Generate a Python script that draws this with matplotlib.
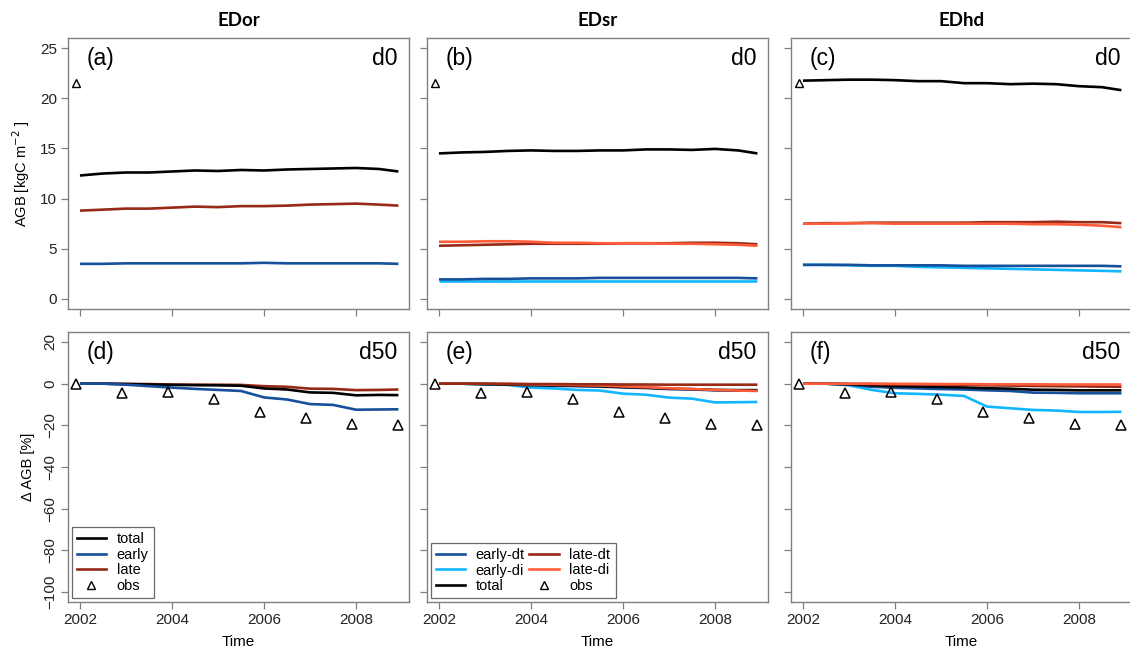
import matplotlib
matplotlib.use("Agg")
import matplotlib.pyplot as plt
from matplotlib.lines import Line2D

plt.rcParams['font.family'] = ['Liberation Sans', 'DejaVu Sans']

# time axis (years), roughly half-yearly samples
t = [2002.0, 2002.5, 2003.0, 2003.5, 2004.0, 2004.5, 2005.0, 2005.5,
     2006.0, 2006.5, 2007.0, 2007.5, 2008.0, 2008.5, 2008.92]

# observations
obs_t = [2001.92, 2002.92, 2003.92, 2004.92, 2005.92, 2006.92, 2007.92, 2008.92]
obs_d0 = [21.5]
obs_d50 = [0, -4.5, -3.8, -7.5, -13.8, -16.3, -19.2, -20.0]

# --- d0, AGB [kgC m-2] ---
or_total = [12.3, 12.5, 12.6, 12.6, 12.7, 12.8, 12.75, 12.85, 12.8, 12.9, 12.95, 13.0, 13.05, 12.95, 12.7]
or_early = [3.5, 3.5, 3.55, 3.55, 3.55, 3.55, 3.55, 3.55, 3.6, 3.55, 3.55, 3.55, 3.55, 3.55, 3.5]
or_late = [8.8, 8.9, 9.0, 9.0, 9.1, 9.2, 9.15, 9.25, 9.25, 9.3, 9.4, 9.45, 9.5, 9.4, 9.3]

sr_total = [14.5, 14.6, 14.65, 14.75, 14.8, 14.75, 14.75, 14.8, 14.8, 14.9, 14.9, 14.85, 14.95, 14.8, 14.5]
sr_early_dt = [1.95, 1.95, 2.0, 2.0, 2.05, 2.05, 2.05, 2.1, 2.1, 2.1, 2.1, 2.1, 2.1, 2.1, 2.05]
sr_early_di = [1.8, 1.8, 1.8, 1.8, 1.8, 1.8, 1.8, 1.8, 1.8, 1.8, 1.8, 1.8, 1.8, 1.8, 1.8]
sr_late_dt = [5.3, 5.35, 5.4, 5.45, 5.5, 5.5, 5.5, 5.5, 5.55, 5.55, 5.55, 5.6, 5.6, 5.55, 5.45]
sr_late_di = [5.7, 5.7, 5.75, 5.75, 5.7, 5.6, 5.6, 5.55, 5.55, 5.55, 5.5, 5.5, 5.45, 5.4, 5.3]

hd_total = [21.75, 21.8, 21.85, 21.85, 21.8, 21.7, 21.7, 21.5, 21.5, 21.4, 21.45, 21.4, 21.2, 21.1, 20.8]
hd_early_dt = [3.4, 3.4, 3.4, 3.35, 3.35, 3.35, 3.35, 3.3, 3.3, 3.3, 3.3, 3.3, 3.3, 3.3, 3.25]
hd_early_di = [3.4, 3.4, 3.35, 3.3, 3.3, 3.2, 3.15, 3.1, 3.05, 3.0, 2.95, 2.9, 2.85, 2.8, 2.75]
hd_late_dt = [7.5, 7.55, 7.55, 7.6, 7.6, 7.6, 7.6, 7.6, 7.65, 7.65, 7.65, 7.7, 7.65, 7.65, 7.55]
hd_late_di = [7.5, 7.5, 7.55, 7.55, 7.5, 7.5, 7.5, 7.5, 7.5, 7.5, 7.45, 7.45, 7.4, 7.3, 7.15]

# --- d50, delta AGB [%] ---
or50_total = [0, 0, -0.2, -0.4, -0.6, -0.7, -0.8, -1.0, -2.3, -2.8, -4.2, -4.4, -5.6, -5.4, -5.5]
or50_early = [0, 0, -0.5, -1.2, -1.9, -2.5, -3.0, -3.5, -6.6, -7.6, -9.8, -10.2, -12.5, -12.4, -12.3]
or50_late = [0, 0, -0.1, -0.2, -0.4, -0.5, -0.5, -0.6, -1.2, -1.5, -2.4, -2.5, -3.1, -3.0, -2.8]

sr50_total = [0, 0, -0.2, -0.4, -0.6, -0.8, -1.0, -1.2, -1.6, -1.9, -2.4, -2.6, -3.0, -3.1, -3.1]
sr50_early_dt = [0, 0, -0.3, -0.5, -0.8, -1.0, -1.2, -1.4, -1.8, -2.1, -2.6, -2.8, -3.2, -3.3, -3.3]
sr50_early_di = [0, 0, -0.3, -0.6, -1.9, -2.3, -3.0, -3.3, -4.8, -5.3, -6.7, -7.2, -9.0, -8.9, -8.8]
sr50_late_dt = [0, 0, 0, -0.1, -0.2, -0.2, -0.3, -0.3, -0.4, -0.4, -0.5, -0.5, -0.5, -0.5, -0.5]
sr50_late_di = [0, 0, 0, -0.1, -0.3, -0.5, -0.7, -0.9, -1.3, -1.7, -2.2, -2.6, -3.0, -3.3, -3.5]

hd50_total = [0, 0, -0.3, -0.8, -1.2, -1.4, -1.6, -1.8, -2.2, -2.4, -2.9, -3.0, -3.2, -3.2, -3.2]
hd50_early_dt = [0, 0, -0.5, -1.5, -2.0, -2.3, -2.6, -2.8, -3.2, -3.5, -4.3, -4.4, -4.6, -4.6, -4.6]
hd50_early_di = [0, 0, -0.8, -3.0, -4.6, -4.9, -5.3, -5.9, -11.0, -11.8, -12.6, -12.9, -13.6, -13.6, -13.5]
hd50_late_dt = [0, 0, -0.1, -0.2, -0.3, -0.4, -0.5, -0.6, -0.8, -0.9, -1.1, -1.2, -1.3, -1.4, -1.5]
hd50_late_di = [0, 0, 0, 0, -0.1, -0.1, -0.2, -0.2, -0.3, -0.3, -0.3, -0.4, -0.4, -0.4, -0.4]

titles = ['EDor', 'EDsr', 'EDhd']
labels_top = ['(a)', '(b)', '(c)']
labels_bot = ['(d)', '(e)', '(f)']

c_early = '#16509a'
c_late = '#962a16'
c_early_di = '#12b6ff'
c_late_di = '#ff5c3a'
c_total = 'black'
gray = '#808080'
lw = 1.9

fig = plt.figure(figsize=(11.3, 6.57), dpi=100)
W, H = 1130.0, 657.0
lefts = [68, 427, 791]
pw = 341
top_rows = [(38, 309), (332, 602)]

axes = []
for r, (ytop, ybot) in enumerate(top_rows):
    row = []
    for c, x0 in enumerate(lefts):
        ax = fig.add_axes([x0 / W, 1 - ybot / H, pw / W, (ybot - ytop) / H])
        row.append(ax)
    axes.append(row)

top_series = [
    [(or_early, c_early), (or_late, c_late), (or_total, c_total)],
    [(sr_early_di, c_early_di), (sr_early_dt, c_early), (sr_late_dt, c_late), (sr_late_di, c_late_di), (sr_total, c_total)],
    [(hd_early_di, c_early_di), (hd_early_dt, c_early), (hd_late_dt, c_late), (hd_late_di, c_late_di), (hd_total, c_total)],
]
bot_series = [
    [(or50_late, c_late), (or50_total, c_total), (or50_early, c_early)],
    [(sr50_early_di, c_early_di), (sr50_early_dt, c_early), (sr50_total, c_total), (sr50_late_di, c_late_di), (sr50_late_dt, c_late)],
    [(hd50_early_di, c_early_di), (hd50_early_dt, c_early), (hd50_total, c_total), (hd50_late_dt, c_late), (hd50_late_di, c_late_di)],
]

for c in range(3):
    ax = axes[0][c]
    for ys, col in top_series[c]:
        ax.plot(t, ys, color=col, lw=lw, solid_capstyle='butt')
    ax.plot(obs_t[:1], obs_d0, linestyle='none', marker='^', ms=6,
            mfc='none', mec='black', mew=1.0)
    ax.set_ylim(-1, 26)
    ax.set_yticks([0, 5, 10, 15, 20, 25])
    ax.text(0.056, 0.965, labels_top[c], transform=ax.transAxes, fontsize=16.5, va='top', ha='left')
    ax.text(0.965, 0.965, 'd0', transform=ax.transAxes, fontsize=16.5, va='top', ha='right')
    ax.set_title(titles[c], fontsize=13.5, fontweight='bold', family=['Lato', 'DejaVu Sans'], pad=9)

    ax = axes[1][c]
    for ys, col in bot_series[c]:
        ax.plot(t, ys, color=col, lw=lw, solid_capstyle='butt')
    ax.plot(obs_t, obs_d50, linestyle='none', marker='^', ms=7.5,
            mfc='none', mec='black', mew=1.1)
    ax.set_ylim(-104.8, 24.8)
    ax.set_yticks([-100, -80, -60, -40, -20, 0, 20])
    ax.text(0.056, 0.965, labels_bot[c], transform=ax.transAxes, fontsize=16.5, va='top', ha='left')
    ax.text(0.965, 0.965, 'd50', transform=ax.transAxes, fontsize=16.5, va='top', ha='right')
    ax.set_xlabel('Time', fontsize=11, labelpad=6)

for r in range(2):
    for c in range(3):
        ax = axes[r][c]
        ax.set_xlim(2001.74, 2009.15)
        ax.set_xticks([2002, 2004, 2006, 2008])
        for s in ax.spines.values():
            s.set_color(gray)
            s.set_linewidth(1.0)
        ax.tick_params(colors=gray, labelcolor='#222222', length=5, width=0.9,
                       labelsize=11, pad=3)
        if r == 0:
            ax.tick_params(labelbottom=False)
        if c > 0:
            ax.tick_params(labelleft=False)

for lab in axes[1][0].get_yticklabels():
    lab.set_rotation(90)
    lab.set_va('center')

axes[0][0].set_ylabel('AGB [kgC m$^{-2}$ ]', fontsize=10.5, labelpad=6)
axes[1][0].set_ylabel('Δ AGB [%]', fontsize=10.5, labelpad=6)

# legends
leg_kw = dict(loc='lower left', fontsize=10.5, frameon=True, fancybox=False,
              edgecolor='#444444', handlelength=2.0, handletextpad=0.75,
              labelspacing=0.12, borderpad=0.35, borderaxespad=0.25)

h_or = [Line2D([], [], color=c_total, lw=lw), Line2D([], [], color=c_early, lw=lw),
        Line2D([], [], color=c_late, lw=lw),
        Line2D([], [], ls='none', marker='^', ms=6, mfc='none', mec='black')]
leg = axes[1][0].legend(h_or, ['total', 'early', 'late', 'obs'], **leg_kw)
leg.get_frame().set_linewidth(0.9)

h_sr = [Line2D([], [], color=c_early, lw=lw), Line2D([], [], color=c_early_di, lw=lw),
        Line2D([], [], color=c_total, lw=lw), Line2D([], [], color=c_late, lw=lw),
        Line2D([], [], color=c_late_di, lw=lw),
        Line2D([], [], ls='none', marker='^', ms=6, mfc='none', mec='black')]
leg = axes[1][1].legend(h_sr, ['early-dt', 'early-di', 'total', 'late-dt', 'late-di', 'obs'],
                        ncol=2, columnspacing=0.3, **leg_kw)
leg.get_frame().set_linewidth(0.9)

fig.savefig('out.png', dpi=100)
